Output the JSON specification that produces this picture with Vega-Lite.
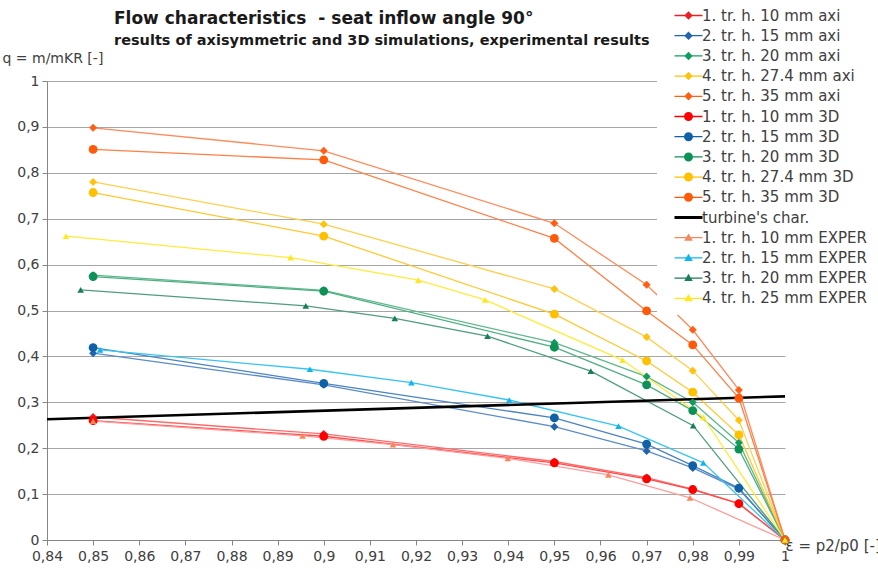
{
  "$schema": "https://vega.github.io/schema/vega-lite/v6.json",
  "width": 738,
  "height": 459,
  "autosize": {"type": "none"},
  "padding": {"left": 47, "top": 81, "right": 93, "bottom": 29},
  "background": "white",
  "title": {
    "text": "Flow characteristics\u00a0 - seat inflow angle 90°",
    "subtitle": "results of axisymmetric and 3D simulations, experimental results",
    "anchor": "start",
    "frame": "group",
    "dx": 67,
    "offset": -48,
    "font": "DejaVu Sans",
    "fontSize": 17,
    "fontWeight": "bold",
    "color": "#1a1a1a",
    "subtitleFont": "DejaVu Sans",
    "subtitleFontSize": 14.5,
    "subtitleFontWeight": "bold",
    "subtitleColor": "#1a1a1a",
    "subtitlePadding": 6
  },
  "config": {
    "view": {"stroke": null},
    "axis": {"labelFont": "DejaVu Sans", "labelFontSize": 14, "labelColor": "#404040", "titleFont": "DejaVu Sans", "titleFontSize": 14, "titleFontWeight": "normal", "titleColor": "#404040", "domainColor": "#868686", "tickColor": "#868686", "tickSize": 5, "gridColor": "#A6A6A6", "gridWidth": 1}
  },
  "data": {
    "values": [
      {"s": "1. tr. h. 10 mm axi", "k": "axi", "x": 0.85, "y": 0.268},
      {"s": "1. tr. h. 10 mm axi", "k": "axi", "x": 0.9, "y": 0.231},
      {"s": "1. tr. h. 10 mm axi", "k": "axi", "x": 0.95, "y": 0.171},
      {"s": "1. tr. h. 10 mm axi", "k": "axi", "x": 0.97, "y": 0.136},
      {"s": "1. tr. h. 10 mm axi", "k": "axi", "x": 0.98, "y": 0.111},
      {"s": "1. tr. h. 10 mm axi", "k": "axi", "x": 0.99, "y": 0.08},
      {"s": "1. tr. h. 10 mm axi", "k": "axi", "x": 1, "y": 0},
      {"s": "2. tr. h. 15 mm axi", "k": "axi", "x": 0.85, "y": 0.407},
      {"s": "2. tr. h. 15 mm axi", "k": "axi", "x": 0.9, "y": 0.338},
      {"s": "2. tr. h. 15 mm axi", "k": "axi", "x": 0.95, "y": 0.247},
      {"s": "2. tr. h. 15 mm axi", "k": "axi", "x": 0.97, "y": 0.194},
      {"s": "2. tr. h. 15 mm axi", "k": "axi", "x": 0.98, "y": 0.157},
      {"s": "2. tr. h. 15 mm axi", "k": "axi", "x": 0.99, "y": 0.111},
      {"s": "2. tr. h. 15 mm axi", "k": "axi", "x": 1, "y": 0},
      {"s": "3. tr. h. 20 mm axi", "k": "axi", "x": 0.85, "y": 0.577},
      {"s": "3. tr. h. 20 mm axi", "k": "axi", "x": 0.9, "y": 0.544},
      {"s": "3. tr. h. 20 mm axi", "k": "axi", "x": 0.95, "y": 0.43},
      {"s": "3. tr. h. 20 mm axi", "k": "axi", "x": 0.97, "y": 0.356},
      {"s": "3. tr. h. 20 mm axi", "k": "axi", "x": 0.98, "y": 0.3},
      {"s": "3. tr. h. 20 mm axi", "k": "axi", "x": 0.99, "y": 0.212},
      {"s": "3. tr. h. 20 mm axi", "k": "axi", "x": 1, "y": 0},
      {"s": "4. tr. h. 27.4 mm axi", "k": "axi", "x": 0.85, "y": 0.78},
      {"s": "4. tr. h. 27.4 mm axi", "k": "axi", "x": 0.9, "y": 0.688},
      {"s": "4. tr. h. 27.4 mm axi", "k": "axi", "x": 0.95, "y": 0.547},
      {"s": "4. tr. h. 27.4 mm axi", "k": "axi", "x": 0.97, "y": 0.442},
      {"s": "4. tr. h. 27.4 mm axi", "k": "axi", "x": 0.98, "y": 0.369},
      {"s": "4. tr. h. 27.4 mm axi", "k": "axi", "x": 0.99, "y": 0.261},
      {"s": "4. tr. h. 27.4 mm axi", "k": "axi", "x": 1, "y": 0},
      {"s": "5. tr. h. 35 mm axi", "k": "axi", "x": 0.85, "y": 0.898},
      {"s": "5. tr. h. 35 mm axi", "k": "axi", "x": 0.9, "y": 0.848},
      {"s": "5. tr. h. 35 mm axi", "k": "axi", "x": 0.95, "y": 0.69},
      {"s": "5. tr. h. 35 mm axi", "k": "axi", "x": 0.97, "y": 0.556},
      {"s": "5. tr. h. 35 mm axi", "k": "axi", "x": 0.98, "y": 0.458},
      {"s": "5. tr. h. 35 mm axi", "k": "axi", "x": 0.99, "y": 0.327},
      {"s": "5. tr. h. 35 mm axi", "k": "axi", "x": 1, "y": 0},
      {"s": "1. tr. h. 10 mm 3D", "k": "3D", "x": 0.85, "y": 0.26},
      {"s": "1. tr. h. 10 mm 3D", "k": "3D", "x": 0.9, "y": 0.226},
      {"s": "1. tr. h. 10 mm 3D", "k": "3D", "x": 0.95, "y": 0.168},
      {"s": "1. tr. h. 10 mm 3D", "k": "3D", "x": 0.97, "y": 0.133},
      {"s": "1. tr. h. 10 mm 3D", "k": "3D", "x": 0.98, "y": 0.11},
      {"s": "1. tr. h. 10 mm 3D", "k": "3D", "x": 0.99, "y": 0.079},
      {"s": "1. tr. h. 10 mm 3D", "k": "3D", "x": 1, "y": 0},
      {"s": "2. tr. h. 15 mm 3D", "k": "3D", "x": 0.85, "y": 0.419},
      {"s": "2. tr. h. 15 mm 3D", "k": "3D", "x": 0.9, "y": 0.341},
      {"s": "2. tr. h. 15 mm 3D", "k": "3D", "x": 0.95, "y": 0.266},
      {"s": "2. tr. h. 15 mm 3D", "k": "3D", "x": 0.97, "y": 0.209},
      {"s": "2. tr. h. 15 mm 3D", "k": "3D", "x": 0.98, "y": 0.162},
      {"s": "2. tr. h. 15 mm 3D", "k": "3D", "x": 0.99, "y": 0.113},
      {"s": "2. tr. h. 15 mm 3D", "k": "3D", "x": 1, "y": 0},
      {"s": "3. tr. h. 20 mm 3D", "k": "3D", "x": 0.85, "y": 0.574},
      {"s": "3. tr. h. 20 mm 3D", "k": "3D", "x": 0.9, "y": 0.542},
      {"s": "3. tr. h. 20 mm 3D", "k": "3D", "x": 0.95, "y": 0.42},
      {"s": "3. tr. h. 20 mm 3D", "k": "3D", "x": 0.97, "y": 0.338},
      {"s": "3. tr. h. 20 mm 3D", "k": "3D", "x": 0.98, "y": 0.282},
      {"s": "3. tr. h. 20 mm 3D", "k": "3D", "x": 0.99, "y": 0.198},
      {"s": "3. tr. h. 20 mm 3D", "k": "3D", "x": 1, "y": 0},
      {"s": "4. tr. h. 27.4 mm 3D", "k": "3D", "x": 0.85, "y": 0.757},
      {"s": "4. tr. h. 27.4 mm 3D", "k": "3D", "x": 0.9, "y": 0.662},
      {"s": "4. tr. h. 27.4 mm 3D", "k": "3D", "x": 0.95, "y": 0.492},
      {"s": "4. tr. h. 27.4 mm 3D", "k": "3D", "x": 0.97, "y": 0.39},
      {"s": "4. tr. h. 27.4 mm 3D", "k": "3D", "x": 0.98, "y": 0.322},
      {"s": "4. tr. h. 27.4 mm 3D", "k": "3D", "x": 0.99, "y": 0.229},
      {"s": "4. tr. h. 27.4 mm 3D", "k": "3D", "x": 1, "y": 0},
      {"s": "5. tr. h. 35 mm 3D", "k": "3D", "x": 0.85, "y": 0.851},
      {"s": "5. tr. h. 35 mm 3D", "k": "3D", "x": 0.9, "y": 0.828},
      {"s": "5. tr. h. 35 mm 3D", "k": "3D", "x": 0.95, "y": 0.657},
      {"s": "5. tr. h. 35 mm 3D", "k": "3D", "x": 0.97, "y": 0.499},
      {"s": "5. tr. h. 35 mm 3D", "k": "3D", "x": 0.98, "y": 0.425},
      {"s": "5. tr. h. 35 mm 3D", "k": "3D", "x": 0.99, "y": 0.309},
      {"s": "5. tr. h. 35 mm 3D", "k": "3D", "x": 1, "y": 0},
      {"s": "turbine's char.", "k": "turb", "x": 0.84, "y": 0.263},
      {"s": "turbine's char.", "k": "turb", "x": 1, "y": 0.313},
      {"s": "1. tr. h. 10 mm EXPER", "k": "EXPER", "x": 0.85, "y": 0.259},
      {"s": "1. tr. h. 10 mm EXPER", "k": "EXPER", "x": 0.8954, "y": 0.227},
      {"s": "1. tr. h. 10 mm EXPER", "k": "EXPER", "x": 0.915, "y": 0.208},
      {"s": "1. tr. h. 10 mm EXPER", "k": "EXPER", "x": 0.9399, "y": 0.178},
      {"s": "1. tr. h. 10 mm EXPER", "k": "EXPER", "x": 0.9617, "y": 0.142},
      {"s": "1. tr. h. 10 mm EXPER", "k": "EXPER", "x": 0.9794, "y": 0.092},
      {"s": "1. tr. h. 10 mm EXPER", "k": "EXPER", "x": 1, "y": 0},
      {"s": "2. tr. h. 15 mm EXPER", "k": "EXPER", "x": 0.8515, "y": 0.414},
      {"s": "2. tr. h. 15 mm EXPER", "k": "EXPER", "x": 0.897, "y": 0.372},
      {"s": "2. tr. h. 15 mm EXPER", "k": "EXPER", "x": 0.919, "y": 0.343},
      {"s": "2. tr. h. 15 mm EXPER", "k": "EXPER", "x": 0.9402, "y": 0.305},
      {"s": "2. tr. h. 15 mm EXPER", "k": "EXPER", "x": 0.9639, "y": 0.248},
      {"s": "2. tr. h. 15 mm EXPER", "k": "EXPER", "x": 0.9823, "y": 0.168},
      {"s": "2. tr. h. 15 mm EXPER", "k": "EXPER", "x": 1, "y": 0},
      {"s": "3. tr. h. 20 mm EXPER", "k": "EXPER", "x": 0.8473, "y": 0.545},
      {"s": "3. tr. h. 20 mm EXPER", "k": "EXPER", "x": 0.8961, "y": 0.51},
      {"s": "3. tr. h. 20 mm EXPER", "k": "EXPER", "x": 0.9154, "y": 0.483},
      {"s": "3. tr. h. 20 mm EXPER", "k": "EXPER", "x": 0.9355, "y": 0.444},
      {"s": "3. tr. h. 20 mm EXPER", "k": "EXPER", "x": 0.9579, "y": 0.368},
      {"s": "3. tr. h. 20 mm EXPER", "k": "EXPER", "x": 0.9801, "y": 0.249},
      {"s": "3. tr. h. 20 mm EXPER", "k": "EXPER", "x": 1, "y": 0},
      {"s": "4. tr. h. 25 mm EXPER", "k": "EXPER", "x": 0.8441, "y": 0.662},
      {"s": "4. tr. h. 25 mm EXPER", "k": "EXPER", "x": 0.8928, "y": 0.615},
      {"s": "4. tr. h. 25 mm EXPER", "k": "EXPER", "x": 0.9205, "y": 0.566},
      {"s": "4. tr. h. 25 mm EXPER", "k": "EXPER", "x": 0.935, "y": 0.523},
      {"s": "4. tr. h. 25 mm EXPER", "k": "EXPER", "x": 0.9648, "y": 0.392},
      {"s": "4. tr. h. 25 mm EXPER", "k": "EXPER", "x": 0.9823, "y": 0.267},
      {"s": "4. tr. h. 25 mm EXPER", "k": "EXPER", "x": 1, "y": 0}
    ]
  },
  "encoding": {
    "x": {
      "field": "x", "type": "quantitative",
      "scale": {"domain": [0.84, 1], "nice": false, "zero": false},
      "axis": {"title": "ε = p2/p0 [-]", "titleAlign": "left", "titleBaseline": "middle", "titleX": 738, "titleY": 5, "titleFontSize": 15, "values": [0.84, 0.85, 0.86, 0.87, 0.88, 0.89, 0.9, 0.91, 0.92, 0.93, 0.94, 0.95, 0.96, 0.97, 0.98, 0.99, 1], "format": ".2~f", "labelExpr": "replace(datum.label, '.', ',')", "grid": false, "labelPadding": 4, "labelFlush": false, "labelOverlap": false}
    },
    "y": {
      "field": "y", "type": "quantitative",
      "scale": {"domain": [0, 1], "nice": false},
      "axis": {"title": "q = m/mKR [-]", "titleAngle": 0, "titleAlign": "left", "titleBaseline": "middle", "titleX": -45, "titleY": -23, "values": [0, 0.1, 0.2, 0.3, 0.4, 0.5, 0.6, 0.7, 0.8, 0.9, 1], "format": ".1~f", "labelExpr": "replace(datum.label, '.', ',')", "grid": true, "labelPadding": 3, "labelOverlap": false}
    }
  },
  "layer": [
    {
      "mark": {"type": "point", "filled": true, "opacity": 0},
      "encoding": {
        "fill": {
          "field": "s", "type": "nominal",
          "scale": {
            "domain": ["1. tr. h. 10 mm axi", "2. tr. h. 15 mm axi", "3. tr. h. 20 mm axi", "4. tr. h. 27.4 mm axi", "5. tr. h. 35 mm axi", "1. tr. h. 10 mm 3D", "2. tr. h. 15 mm 3D", "3. tr. h. 20 mm 3D", "4. tr. h. 27.4 mm 3D", "5. tr. h. 35 mm 3D", "turbine's char.", "1. tr. h. 10 mm EXPER", "2. tr. h. 15 mm EXPER", "3. tr. h. 20 mm EXPER", "4. tr. h. 25 mm EXPER"],
            "range": ["#F01E1E", "#1F64AD", "#149C5E", "#FFC20E", "#FF5E14", "#FF0000", "#1060A8", "#0E9157", "#FFC000", "#FF5A0A", "#000000", "#F7875A", "#12B5EE", "#1A7D5B", "#FFE81F"]
          },
          "legend": {"title": null, "orient": "none", "legendX": 610, "legendY": -81, "fillColor": "white", "padding": 8, "symbolSize": 100, "symbolStrokeWidth": 0, "symbolOffset": 16, "labelOffset": 6, "symbolOpacity": 1, "labelFont": "DejaVu Sans", "labelFontSize": 15, "labelColor": "#404040", "rowPadding": 4.2, "labelLimit": 400, "direction": "vertical"}
        },
        "shape": {
          "field": "s", "type": "nominal",
          "scale": {
            "domain": ["1. tr. h. 10 mm axi", "2. tr. h. 15 mm axi", "3. tr. h. 20 mm axi", "4. tr. h. 27.4 mm axi", "5. tr. h. 35 mm axi", "1. tr. h. 10 mm 3D", "2. tr. h. 15 mm 3D", "3. tr. h. 20 mm 3D", "4. tr. h. 27.4 mm 3D", "5. tr. h. 35 mm 3D", "turbine's char.", "1. tr. h. 10 mm EXPER", "2. tr. h. 15 mm EXPER", "3. tr. h. 20 mm EXPER", "4. tr. h. 25 mm EXPER"],
            "range": [
              "M-2.8,-0.13L2.8,-0.13L2.8,0.13L-2.8,0.13ZM0,-0.85L0.85,0L0,0.85L-0.85,0Z",
              "M-2.8,-0.13L2.8,-0.13L2.8,0.13L-2.8,0.13ZM0,-0.85L0.85,0L0,0.85L-0.85,0Z",
              "M-2.8,-0.13L2.8,-0.13L2.8,0.13L-2.8,0.13ZM0,-0.85L0.85,0L0,0.85L-0.85,0Z",
              "M-2.8,-0.13L2.8,-0.13L2.8,0.13L-2.8,0.13ZM0,-0.85L0.85,0L0,0.85L-0.85,0Z",
              "M-2.8,-0.13L2.8,-0.13L2.8,0.13L-2.8,0.13ZM0,-0.85L0.85,0L0,0.85L-0.85,0Z",
              "M-2.8,-0.13L2.8,-0.13L2.8,0.13L-2.8,0.13ZM0.9,0C0.9,0.5 0.5,0.9 0,0.9C-0.5,0.9 -0.9,0.5 -0.9,0C-0.9,-0.5 -0.5,-0.9 0,-0.9C0.5,-0.9 0.9,-0.5 0.9,0Z",
              "M-2.8,-0.13L2.8,-0.13L2.8,0.13L-2.8,0.13ZM0.9,0C0.9,0.5 0.5,0.9 0,0.9C-0.5,0.9 -0.9,0.5 -0.9,0C-0.9,-0.5 -0.5,-0.9 0,-0.9C0.5,-0.9 0.9,-0.5 0.9,0Z",
              "M-2.8,-0.13L2.8,-0.13L2.8,0.13L-2.8,0.13ZM0.9,0C0.9,0.5 0.5,0.9 0,0.9C-0.5,0.9 -0.9,0.5 -0.9,0C-0.9,-0.5 -0.5,-0.9 0,-0.9C0.5,-0.9 0.9,-0.5 0.9,0Z",
              "M-2.8,-0.13L2.8,-0.13L2.8,0.13L-2.8,0.13ZM0.9,0C0.9,0.5 0.5,0.9 0,0.9C-0.5,0.9 -0.9,0.5 -0.9,0C-0.9,-0.5 -0.5,-0.9 0,-0.9C0.5,-0.9 0.9,-0.5 0.9,0Z",
              "M-2.8,-0.13L2.8,-0.13L2.8,0.13L-2.8,0.13ZM0.9,0C0.9,0.5 0.5,0.9 0,0.9C-0.5,0.9 -0.9,0.5 -0.9,0C-0.9,-0.5 -0.5,-0.9 0,-0.9C0.5,-0.9 0.9,-0.5 0.9,0Z",
              "M-2.8,-0.3L2.8,-0.3L2.8,0.3L-2.8,0.3Z",
              "M-2.8,-0.13L2.8,-0.13L2.8,0.13L-2.8,0.13ZM0,-0.85L0.85,0.6L-0.85,0.6Z",
              "M-2.8,-0.13L2.8,-0.13L2.8,0.13L-2.8,0.13ZM0,-0.85L0.85,0.6L-0.85,0.6Z",
              "M-2.8,-0.13L2.8,-0.13L2.8,0.13L-2.8,0.13ZM0,-0.85L0.85,0.6L-0.85,0.6Z",
              "M-2.8,-0.13L2.8,-0.13L2.8,0.13L-2.8,0.13ZM0,-0.85L0.85,0.6L-0.85,0.6Z"
            ]
          },
          "legend": {"title": null, "orient": "none", "legendX": 610, "legendY": -81, "fillColor": "white", "padding": 8, "symbolSize": 100, "symbolStrokeWidth": 0, "symbolOffset": 16, "labelOffset": 6, "symbolOpacity": 1, "labelFont": "DejaVu Sans", "labelFontSize": 15, "labelColor": "#404040", "rowPadding": 4.2, "labelLimit": 400, "direction": "vertical"}
        }
      }
    },
    {
      "transform": [{"filter": "datum.k !== 'turb'"}],
      "mark": {"type": "line", "strokeWidth": 1.3},
      "encoding": {
        "stroke": {
          "field": "s", "type": "nominal",
          "scale": {
            "domain": ["1. tr. h. 10 mm axi", "2. tr. h. 15 mm axi", "3. tr. h. 20 mm axi", "4. tr. h. 27.4 mm axi", "5. tr. h. 35 mm axi", "1. tr. h. 10 mm 3D", "2. tr. h. 15 mm 3D", "3. tr. h. 20 mm 3D", "4. tr. h. 27.4 mm 3D", "5. tr. h. 35 mm 3D", "turbine's char.", "1. tr. h. 10 mm EXPER", "2. tr. h. 15 mm EXPER", "3. tr. h. 20 mm EXPER", "4. tr. h. 25 mm EXPER"],
            "range": ["#FF6B6B", "#5B8CC8", "#5DB88C", "#FFCF4D", "#FF8A5C", "#FF4A4A", "#4A82C2", "#4FAF82", "#FFC933", "#FF7F45", "#000000", "#FF9C9C", "#38C4F2", "#4E9E7C", "#FFEB3B"]
          },
          "legend": null
        }
      }
    },
    {
      "transform": [{"filter": "datum.k === 'turb'"}],
      "mark": {"type": "line", "strokeWidth": 2.6, "color": "#000000"},
      "encoding": {}
    },
    {
      "transform": [{"filter": "datum.k === 'axi'"}],
      "mark": {"type": "point", "shape": "diamond", "filled": true, "size": 64, "opacity": 1},
      "encoding": {"fill": {"field": "s", "type": "nominal"}}
    },
    {
      "transform": [{"filter": "datum.k === '3D'"}],
      "mark": {"type": "point", "shape": "circle", "filled": true, "size": 78, "opacity": 1},
      "encoding": {"fill": {"field": "s", "type": "nominal"}}
    },
    {
      "transform": [{"filter": "datum.k === 'EXPER'"}],
      "mark": {"type": "point", "shape": "triangle-up", "filled": true, "size": 44, "opacity": 1},
      "encoding": {"fill": {"field": "s", "type": "nominal"}}
    }
  ]
}
